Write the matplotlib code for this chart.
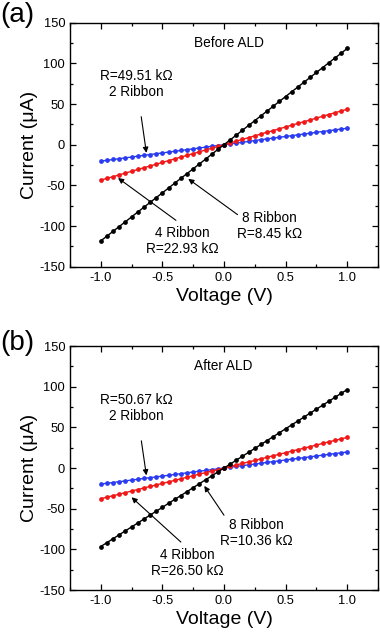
import matplotlib
matplotlib.use("Agg")
import matplotlib.pyplot as plt
from matplotlib.ticker import MultipleLocator

plt.rcParams['font.family'] = ['Liberation Sans', 'DejaVu Sans']
plt.rcParams['axes.unicode_minus'] = False

# bias voltage (V)
voltage = [-1.0, -0.95, -0.9, -0.85, -0.8, -0.75, -0.7, -0.65, -0.6, -0.55,
           -0.5, -0.45, -0.4, -0.35, -0.3, -0.25, -0.2, -0.15, -0.1, -0.05,
           0.0, 0.05, 0.1, 0.15, 0.2, 0.25, 0.3, 0.35, 0.4, 0.45,
           0.5, 0.55, 0.6, 0.65, 0.7, 0.75, 0.8, 0.85, 0.9, 0.95, 1.0]

# current (uA), before ALD
before_2 = [-20.2, -19.2, -18.2, -17.2, -16.2, -15.2, -14.1, -13.1, -12.1, -11.1,
            -10.1, -9.1, -8.1, -7.1, -6.1, -5.1, -4.0, -3.0, -2.0, -1.0,
            0.0, 1.0, 2.0, 3.0, 4.0, 5.1, 6.1, 7.1, 8.1, 9.1,
            10.1, 11.1, 12.1, 13.1, 14.1, 15.2, 16.2, 17.2, 18.2, 19.2, 20.2]
before_4 = [-43.6, -41.4, -39.3, -37.1, -34.9, -32.7, -30.5, -28.3, -26.2, -24.0,
            -21.8, -19.6, -17.4, -15.3, -13.1, -10.9, -8.7, -6.5, -4.4, -2.2,
            0.0, 2.2, 4.4, 6.5, 8.7, 10.9, 13.1, 15.3, 17.4, 19.6,
            21.8, 24.0, 26.2, 28.3, 30.5, 32.7, 34.9, 37.1, 39.3, 41.4, 43.6]
before_8 = [-118.3, -112.4, -106.5, -100.6, -94.7, -88.8, -82.8, -76.9, -71.0, -65.1,
            -59.2, -53.3, -47.3, -41.4, -35.5, -29.6, -23.7, -17.8, -11.8, -5.9,
            0.0, 5.9, 11.8, 17.8, 23.7, 29.6, 35.5, 41.4, 47.3, 53.3,
            59.2, 65.1, 71.0, 76.9, 82.8, 88.8, 94.7, 100.6, 106.5, 112.4, 118.3]

# current (uA), after ALD
after_2 = [-19.7, -18.7, -17.8, -16.8, -15.8, -14.8, -13.8, -12.8, -11.8, -10.9,
           -9.9, -8.9, -7.9, -6.9, -5.9, -4.9, -3.9, -3.0, -2.0, -1.0,
           0.0, 1.0, 2.0, 3.0, 3.9, 4.9, 5.9, 6.9, 7.9, 8.9,
           9.9, 10.9, 11.8, 12.8, 13.8, 14.8, 15.8, 16.8, 17.8, 18.7, 19.7]
after_4 = [-37.7, -35.8, -34.0, -32.1, -30.2, -28.3, -26.4, -24.5, -22.6, -20.8,
           -18.9, -17.0, -15.1, -13.2, -11.3, -9.4, -7.5, -5.7, -3.8, -1.9,
           0.0, 1.9, 3.8, 5.7, 7.5, 9.4, 11.3, 13.2, 15.1, 17.0,
           18.9, 20.8, 22.6, 24.5, 26.4, 28.3, 30.2, 32.1, 34.0, 35.8, 37.7]
after_8 = [-96.5, -91.7, -86.9, -82.0, -77.2, -72.4, -67.6, -62.7, -57.9, -53.1,
           -48.3, -43.4, -38.6, -33.8, -29.0, -24.1, -19.3, -14.5, -9.7, -4.8,
           0.0, 4.8, 9.7, 14.5, 19.3, 24.1, 29.0, 33.8, 38.6, 43.4,
           48.3, 53.1, 57.9, 62.7, 67.6, 72.4, 77.2, 82.0, 86.9, 91.7, 96.5]

titles = ['Before ALD', 'After ALD']
labels_2 = ['R=49.51 k\u03a9\n2 Ribbon', 'R=50.67 k\u03a9\n2 Ribbon']
labels_4 = ['4 Ribbon\nR=22.93 k\u03a9', '4 Ribbon\nR=26.50 k\u03a9']
labels_8 = ['8 Ribbon\nR=8.45 k\u03a9', '8 Ribbon\nR=10.36 k\u03a9']
panel_tags = ['(a)', '(b)']

# annotation placement: (text xy, arrow tip xy) per panel
ann_2 = [((-0.71, 75), (-0.63, -10)), ((-0.71, 74), (-0.63, -9))]
ann_4 = [((-0.34, -118), (-0.86, -41)), ((-0.30, -117), (-0.75, -36))]
ann_8 = [((0.37, -100), (-0.29, -42)), ((0.26, -80), (-0.16, -22))]
text_top_4 = [-93, -91]
text_top_8 = [-86, -58]

fig = plt.figure(figsize=(3.8, 6.36), dpi=100)
ax_a = fig.add_axes([0.1842, 0.5807, 0.8105, 0.3836])
ax_b = fig.add_axes([0.1842, 0.0723, 0.8105, 0.3836])

series = [(before_2, before_4, before_8), (after_2, after_4, after_8)]
colors = ['#2b3cf0', '#f01818', 'black']
fs = 9.8

for i, ax in enumerate([ax_a, ax_b]):
    s2, s4, s8 = series[i]
    for vals, c in zip([s2, s4, s8], colors):
        ax.plot(voltage, vals, color=c, lw=1.0, marker='o', ms=2.4,
                mec=c, mfc=c)

    ax.set_xlim(-1.25, 1.25)
    ax.set_ylim(-150, 150)
    ax.xaxis.set_major_locator(MultipleLocator(0.5))
    ax.xaxis.set_minor_locator(MultipleLocator(0.25))
    ax.yaxis.set_major_locator(MultipleLocator(50))
    ax.yaxis.set_minor_locator(MultipleLocator(25))
    ax.tick_params(which='both', direction='in', top=True, right=True,
                   labelsize=9.3, width=0.9)
    ax.tick_params(which='major', length=4)
    ax.tick_params(which='minor', length=2)
    ax.xaxis.set_major_formatter(plt.FuncFormatter(lambda v, p: '%.1f' % v))
    for sp in ax.spines.values():
        sp.set_linewidth(1.0)

    ax.set_xlabel('Voltage (V)', fontsize=14, labelpad=3)
    ax.set_ylabel('Current (\u03bcA)', fontsize=14, labelpad=1)

    ax.text(-0.24, 125, titles[i], fontsize=fs, ha='left', va='center')

    (t2, p2) = ann_2[i]
    ax.annotate(labels_2[i], xy=p2, xytext=t2, fontsize=fs, ha='center',
                va='center', linespacing=1.2,
                arrowprops=dict(arrowstyle='-|>', color='black', lw=0.8,
                                mutation_scale=8, shrinkA=11, shrinkB=0))
    (t4, p4) = ann_4[i]
    ax.text(t4[0], t4[1], labels_4[i], fontsize=fs, ha='center',
            va='center', linespacing=1.2)
    ax.annotate('', xy=p4, xytext=(t4[0] - 0.05, text_top_4[i]),
                arrowprops=dict(arrowstyle='-|>', color='black', lw=0.8,
                                mutation_scale=8, shrinkA=0, shrinkB=0))
    (t8, p8) = ann_8[i]
    ax.text(t8[0], t8[1], labels_8[i], fontsize=fs, ha='center',
            va='center', linespacing=1.2)
    ax.annotate('', xy=p8, xytext=(t8[0] - 0.26, text_top_8[i]),
                arrowprops=dict(arrowstyle='-|>', color='black', lw=0.8,
                                mutation_scale=8, shrinkA=0, shrinkB=0))

fig.text(0.0, 0.976, panel_tags[0], fontsize=20, ha='left', va='center')
fig.text(0.0, 0.461, panel_tags[1], fontsize=20, ha='left', va='center')

fig.savefig('out.png', dpi=100)
